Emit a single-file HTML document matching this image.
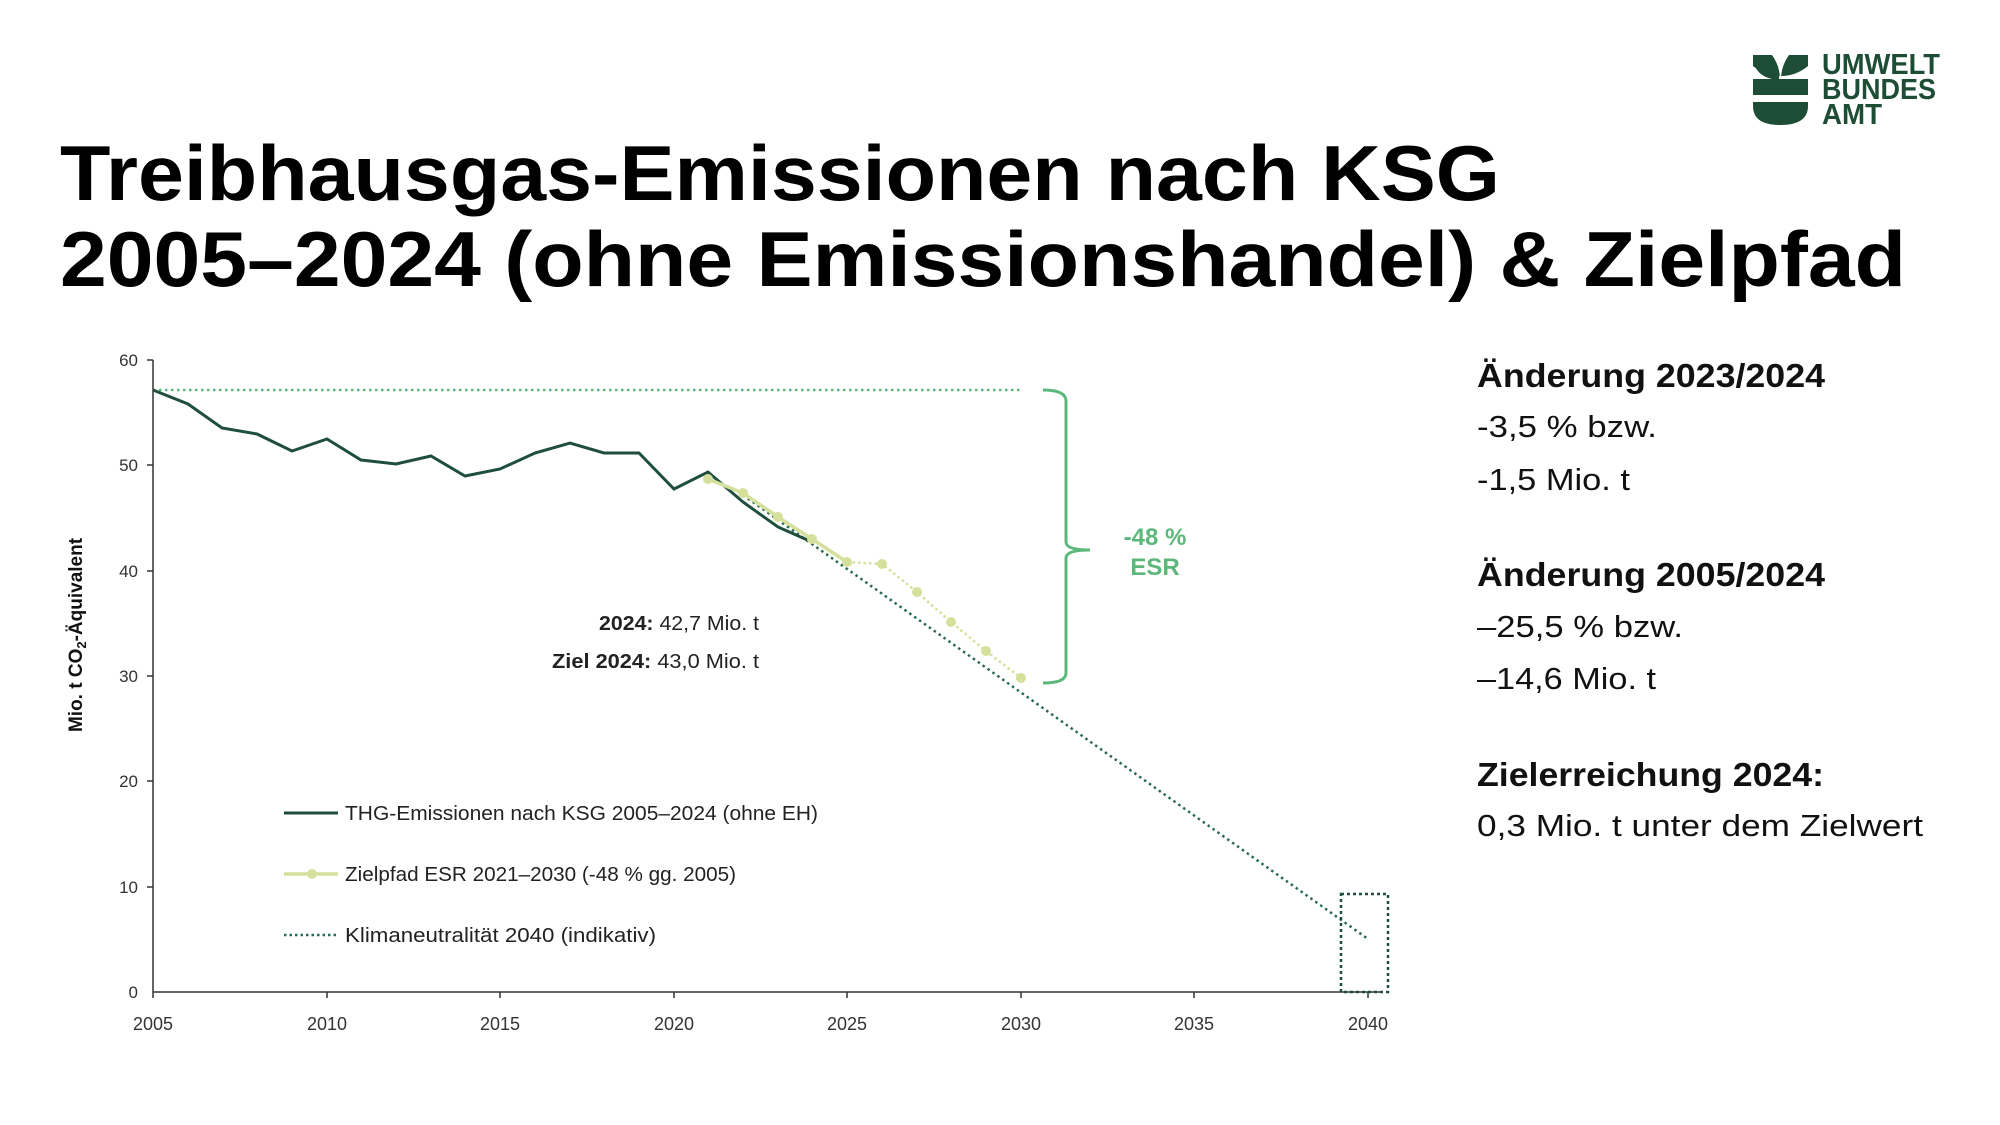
<!DOCTYPE html>
<html><head><meta charset="utf-8"><style>
html,body{margin:0;padding:0;background:#fff;}
svg{display:block;}
text{font-family:"Liberation Sans",sans-serif;}
</style></head><body>
<svg width="2000" height="1125" viewBox="0 0 2000 1125" xmlns="http://www.w3.org/2000/svg">
<!-- Logo -->
<g fill="#1e4d35">
<path d="M1753 55 L1772 55 Q1780 66 1780 80 L1780 76 Q1765 76 1753 66 Z"/>
<path d="M1808 55 L1789 55 Q1781 66 1781 80 L1781 76 Q1796 76 1808 66 Z"/>
<path d="M1753 55 Q1753 78 1779 80 L1779 76 Q1760 72 1753 55Z"/>
<rect x="1753" y="79" width="55" height="16"/>
<path d="M1753 102 L1808 102 L1808 106 Q1808 125 1780 125 Q1753 125 1753 106 Z"/>
<text x="1822" y="74" font-size="29" font-weight="bold" textLength="118" lengthAdjust="spacingAndGlyphs">UMWELT</text>
<text x="1822" y="99" font-size="29" font-weight="bold" textLength="114" lengthAdjust="spacingAndGlyphs">BUNDES</text>
<text x="1822" y="124" font-size="29" font-weight="bold" textLength="60" lengthAdjust="spacingAndGlyphs">AMT</text>
</g>
<!-- Title -->
<text x="60" y="200" font-size="78" font-weight="bold" textLength="1440" lengthAdjust="spacingAndGlyphs">Treibhausgas-Emissionen nach KSG</text>
<text x="60" y="286" font-size="78" font-weight="bold" textLength="1846" lengthAdjust="spacingAndGlyphs">2005–2024 (ohne Emissionshandel) &amp; Zielpfad</text>
<!-- axes -->
<g stroke="#333" stroke-width="1.5" fill="none">
<line x1="153" y1="360" x2="153" y2="992"/>
<line x1="153" y1="992" x2="1380" y2="992"/>
<line x1="147" y1="360" x2="153" y2="360"/><line x1="147" y1="465" x2="153" y2="465"/><line x1="147" y1="571" x2="153" y2="571"/><line x1="147" y1="676" x2="153" y2="676"/><line x1="147" y1="781" x2="153" y2="781"/><line x1="147" y1="887" x2="153" y2="887"/>
<line x1="153" y1="992" x2="153" y2="998"/><line x1="327" y1="992" x2="327" y2="998"/><line x1="500" y1="992" x2="500" y2="998"/><line x1="674" y1="992" x2="674" y2="998"/><line x1="847" y1="992" x2="847" y2="998"/><line x1="1021" y1="992" x2="1021" y2="998"/><line x1="1194" y1="992" x2="1194" y2="998"/><line x1="1368" y1="992" x2="1368" y2="998"/>
</g>
<g font-size="17" fill="#333" text-anchor="end">
<text x="138" y="366">60</text><text x="138" y="471">50</text><text x="138" y="577">40</text><text x="138" y="682">30</text><text x="138" y="787">20</text><text x="138" y="893">10</text><text x="138" y="998">0</text>
</g>
<g font-size="18" fill="#333" text-anchor="middle">
<text x="153" y="1030">2005</text><text x="327" y="1030">2010</text><text x="500" y="1030">2015</text><text x="674" y="1030">2020</text><text x="847" y="1030">2025</text><text x="1021" y="1030">2030</text><text x="1194" y="1030">2035</text><text x="1368" y="1030">2040</text>
</g>
<text transform="translate(82,635) rotate(-90)" font-size="19" font-weight="bold" text-anchor="middle" fill="#111">Mio. t CO<tspan font-size="13" dy="4">2</tspan><tspan dy="-4">-Äquivalent</tspan></text>
<!-- green horizontal dotted -->
<line x1="153" y1="390" x2="1020" y2="390" stroke="#5cb87a" stroke-width="2.5" stroke-dasharray="2.5,3.5"/>
<!-- climate neutrality dotted -->
<line x1="743" y1="495" x2="1368" y2="939" stroke="#2a6a4e" stroke-width="2.5" stroke-dasharray="2.5,3.5"/>
<rect x="1341" y="894" width="47" height="98" fill="none" stroke="#1f4e3d" stroke-width="2.5" stroke-dasharray="3,3"/>
<!-- emissions -->
<polyline fill="none" stroke="#1f4e3d" stroke-width="3" points="153,390 188,404 222,428 257,434 292,451 327,439 361,460 396,464 431,456 465,476 500,469 535,453 570,443 604,453 639,453 674,489 708,472 743,502 778,527 812,542"/>
<!-- target -->
<polyline fill="none" stroke="#d4e09b" stroke-width="3.5" points="708,479 743,493 778,517 812,539 847,562"/>
<polyline fill="none" stroke="#d4e09b" stroke-width="2.5" stroke-dasharray="2.5,3" points="847,562 882,564 917,592 951,622 986,651 1021,678"/>
<g fill="#d4e09b">
<circle cx="708" cy="479" r="5"/><circle cx="743" cy="493" r="5"/><circle cx="778" cy="517" r="5"/><circle cx="812" cy="539" r="5"/><circle cx="847" cy="562" r="5"/><circle cx="882" cy="564" r="5"/><circle cx="917" cy="592" r="5"/><circle cx="951" cy="622" r="5"/><circle cx="986" cy="651" r="5"/><circle cx="1021" cy="678" r="5"/>
</g>
<!-- bracket -->
<path d="M1043 390 Q1066 390 1066 401 L1066 542 Q1066 550 1090 550 Q1066 550 1066 558 L1066 673 Q1066 683 1043 683" fill="none" stroke="#5cb87a" stroke-width="3"/>
<text x="1155" y="545" font-size="24" font-weight="bold" fill="#5cb87a" text-anchor="middle">-48 %</text>
<text x="1155" y="575" font-size="24" font-weight="bold" fill="#5cb87a" text-anchor="middle">ESR</text>
<!-- annotations -->
<text x="759" y="630" font-size="20" text-anchor="end" fill="#222" textLength="160" lengthAdjust="spacingAndGlyphs"><tspan font-weight="bold">2024:</tspan> 42,7 Mio. t</text>
<text x="759" y="668" font-size="20" text-anchor="end" fill="#222" textLength="207" lengthAdjust="spacingAndGlyphs"><tspan font-weight="bold">Ziel 2024:</tspan>  43,0 Mio. t</text>
<!-- legend -->
<line x1="284" y1="813" x2="338" y2="813" stroke="#1f4e3d" stroke-width="3"/>
<text x="345" y="820" font-size="20" fill="#222" textLength="473" lengthAdjust="spacingAndGlyphs">THG-Emissionen nach KSG 2005–2024 (ohne EH)</text>
<line x1="284" y1="874" x2="338" y2="874" stroke="#d4e09b" stroke-width="3.5"/><circle cx="312" cy="874" r="5" fill="#d4e09b"/>
<text x="345" y="881" font-size="20" fill="#222" textLength="391" lengthAdjust="spacingAndGlyphs">Zielpfad ESR 2021–2030 (-48 % gg. 2005)</text>
<line x1="284" y1="935" x2="338" y2="935" stroke="#2a6a4e" stroke-width="2.5" stroke-dasharray="2.5,3"/>
<text x="345" y="942" font-size="20" fill="#222" textLength="311" lengthAdjust="spacingAndGlyphs">Klimaneutralität 2040 (indikativ)</text>
<!-- right panel -->
<g fill="#111">
<text x="1477" y="387" font-size="33" font-weight="bold" textLength="348" lengthAdjust="spacingAndGlyphs">Änderung 2023/2024</text>
<text x="1477" y="437" font-size="31" textLength="180" lengthAdjust="spacingAndGlyphs">-3,5 %  bzw.</text>
<text x="1477" y="490" font-size="31" textLength="153" lengthAdjust="spacingAndGlyphs">-1,5 Mio. t</text>
<text x="1477" y="586" font-size="33" font-weight="bold" textLength="348" lengthAdjust="spacingAndGlyphs">Änderung 2005/2024</text>
<text x="1477" y="637" font-size="31" textLength="206" lengthAdjust="spacingAndGlyphs">–25,5 %  bzw.</text>
<text x="1477" y="689" font-size="31" textLength="179" lengthAdjust="spacingAndGlyphs">–14,6 Mio. t</text>
<text x="1477" y="786" font-size="33" font-weight="bold" textLength="347" lengthAdjust="spacingAndGlyphs">Zielerreichung 2024:</text>
<text x="1477" y="836" font-size="31" textLength="446" lengthAdjust="spacingAndGlyphs">0,3 Mio. t unter dem Zielwert</text>
</g>
</svg>
</body></html>
